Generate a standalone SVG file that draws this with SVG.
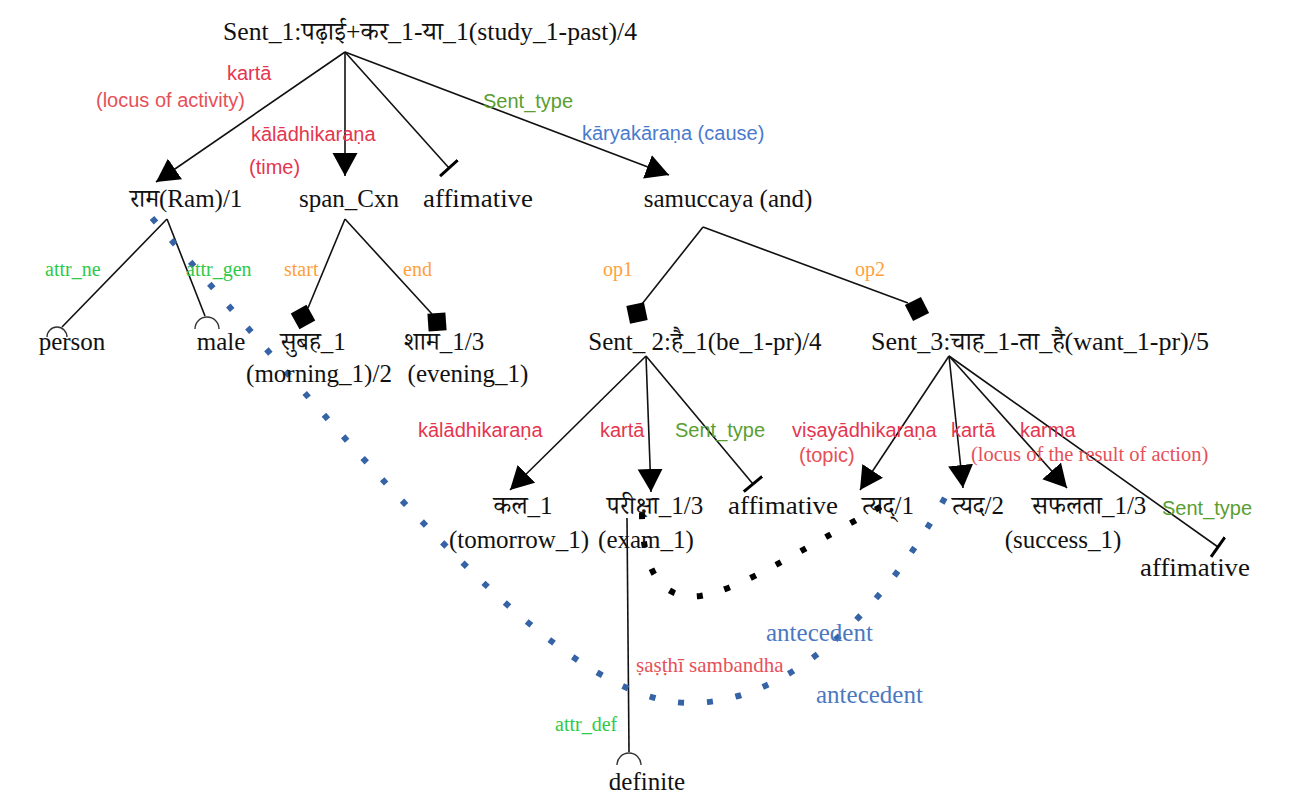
<svg xmlns="http://www.w3.org/2000/svg" width="1297" height="811" viewBox="0 0 1297 811">
  <defs>
    <style>
      .node text { font-family: "Liberation Serif", "Noto Serif Devanagari", "Noto Sans Devanagari", "Lohit Devanagari", "FreeSerif", serif; font-size: 25px; fill: #111; text-anchor: middle; }
      .edge { stroke: #111; stroke-width: 1.6; fill: none; }
      .arrow { marker-end: url(#arrowHead); }
      .tee { marker-end: url(#teeHead); }
      .cup { stroke: #333; stroke-width: 1.4; fill: none; }
      .box { fill: #000; }
      .ref-blue { stroke: #3563a6; stroke-width: 6; fill: none; stroke-dasharray: 6 23; }
      .ref-black { stroke: #000; stroke-width: 6; fill: none; stroke-dasharray: 6 22.5; }
      .sans { font-family: "Liberation Sans", "DejaVu Sans", sans-serif; font-size: 20px; }
      .serif { font-family: "Liberation Serif", "DejaVu Serif", serif; font-size: 20px; }
      .red { fill: #e4364f; }
      .red2 { fill: #e65058; }
      .green { fill: #5a9e32; }
      .lime { fill: #2fc94a; }
      .blue { fill: #4a7acc; }
      .blue2 { fill: #4b78c0; }
      .orange { fill: #ffa03c; }
    </style>
    <marker id="arrowHead" markerUnits="userSpaceOnUse" markerWidth="25" markerHeight="26" refX="23" refY="12.5" orient="auto">
      <path d="M0,0 L23,12.5 L0,25 z" fill="#000"/>
    </marker>
    <marker id="teeHead" markerUnits="userSpaceOnUse" markerWidth="6" markerHeight="26" refX="2" refY="12" orient="auto">
      <path d="M2,0 V24" stroke="#000" stroke-width="3"/>
    </marker>
  </defs>

  <rect width="1297" height="811" fill="#fff"/>

  <!-- dependency edges -->
  <g id="connectors">
    <!-- from Sent_1 -->
    <path class="edge arrow" d="M345,52 L156,182"/>
    <path class="edge arrow" d="M345,52 L345,176"/>
    <path class="edge tee" d="M345,52 L449,168"/>
    <path class="edge arrow" d="M345,52 L669,175"/>
    <!-- from Ram -->
    <path class="edge" d="M167,219 L62,327"/>
    <path class="cup" d="M47,337 A10,10 0 0 1 67,337"/>
    <path class="edge" d="M167,219 L205,316"/>
    <path class="cup" d="M195,329 A12,12 0 0 1 219,329"/>
    <!-- from span_Cxn -->
    <path class="edge" d="M345,219 L308,308"/>
    <rect class="box" x="-9" y="-9" width="18" height="18" transform="translate(303,317) rotate(-29)"/>
    <path class="edge" d="M345,219 L432,314"/>
    <rect class="box" x="-9" y="-9" width="18" height="18" transform="translate(437,322) rotate(-4)"/>
    <!-- from samuccaya -->
    <path class="edge" d="M703,227 L642,304"/>
    <rect class="box" x="-9" y="-9" width="18" height="18" transform="translate(637,313) rotate(-12)"/>
    <path class="edge" d="M703,227 L908,303"/>
    <rect class="box" x="-9" y="-9" width="18" height="18" transform="translate(917,309) rotate(-27)"/>
    <!-- from Sent_2 -->
    <path class="edge arrow" d="M646,356 L510,490"/>
    <path class="edge arrow" d="M646,356 L651,492"/>
    <path class="edge tee" d="M646,356 L753,484"/>
    <!-- from Sent_3 -->
    <path class="edge arrow" d="M949,356 L860,490"/>
    <path class="edge arrow" d="M949,356 L963,488"/>
    <path class="edge arrow" d="M949,356 L1067,488"/>
    <path class="edge tee" d="M949,356 L1218,547"/>
    <!-- pariksha to definite -->
    <path class="edge" d="M627,518 L629,752"/>
    <path class="cup" d="M617,765 A12,12 0 0 1 641,765"/>
    <!-- coreference chains -->
    <path class="ref-blue" d="M152,218 C380,478 560,703 690,703 C790,703 885,610 948,492"/>
    <path class="ref-black" d="M642,513 C642,580 668,600 700,596 C740,590 800,550 882,506"/>
  </g>

  <!-- relation labels -->
  <g id="edge-labels">
    <text class="sans red" x="227" y="80">kartā</text>
    <text class="sans red2" x="96" y="107">(locus of activity)</text>
    <text class="sans red" x="251" y="141">kālādhikaraṇa</text>
    <text class="sans red" x="249" y="174">(time)</text>
    <text class="sans green" x="483" y="108">Sent_type</text>
    <text class="sans blue" x="582" y="140">kāryakāraṇa (cause)</text>

    <text class="serif lime" x="45" y="276">attr_ne</text>
    <text class="serif lime" x="186" y="276">attr_gen</text>
    <text class="serif orange" x="284" y="276">start</text>
    <text class="serif orange" x="403" y="276">end</text>
    <text class="serif orange" x="603" y="276">op1</text>
    <text class="serif orange" x="855" y="276">op2</text>

    <text class="sans red" x="418" y="437">kālādhikaraṇa</text>
    <text class="sans red" x="600" y="437">kartā</text>
    <text class="sans green" x="675" y="437">Sent_type</text>
    <text class="sans red" x="792" y="437">viṣayādhikaraṇa</text>
    <text class="sans red2" x="799" y="462">(topic)</text>
    <text class="sans red" x="951" y="437">kartā</text>
    <text class="sans red" x="1020" y="437">karma</text>
    <text class="serif red2" x="971" y="461" style="font-size:20.5px">(locus of the result of action)</text>
    <text class="sans green" x="1162" y="515">Sent_type</text>

    <text class="serif blue2" x="766" y="641" style="font-size:25px">antecedent</text>
    <text class="serif blue2" x="816" y="703" style="font-size:25px">antecedent</text>
    <text class="serif red2" x="636" y="672" style="font-size:21px">ṣaṣṭhī sambandha</text>
    <text class="serif lime" x="555" y="731">attr_def</text>
  </g>

  <!-- nodes -->
  <g id="n-sent1" class="node"><text x="430" y="40" textLength="414" lengthAdjust="spacingAndGlyphs">Sent_1:पढ़ाई+कर_1-या_1(study_1-past)/4</text></g>
  <g id="n-ram" class="node"><text x="186" y="207">राम(Ram)/1</text></g>
  <g id="n-span" class="node"><text x="349" y="207">span_Cxn</text></g>
  <g id="n-affirm1" class="node"><text x="478" y="207" textLength="110" lengthAdjust="spacingAndGlyphs">affimative</text></g>
  <g id="n-samuccaya" class="node"><text x="728" y="207">samuccaya (and)</text></g>
  <g id="n-person" class="node"><text x="72" y="350">person</text></g>
  <g id="n-male" class="node"><text x="221" y="350">male</text></g>
  <g id="n-subah" class="node"><text x="313" y="350">सुबह_1</text><text x="319" y="382">(morning_1)/2</text></g>
  <g id="n-sham" class="node"><text x="444" y="350">शाम_1/3</text><text x="468" y="382">(evening_1)</text></g>
  <g id="n-sent2" class="node"><text x="705" y="350">Sent_ 2:है_1(be_1-pr)/4</text></g>
  <g id="n-sent3" class="node"><text x="1040" y="350" textLength="338" lengthAdjust="spacingAndGlyphs">Sent_3:चाह_1-ता_है(want_1-pr)/5</text></g>
  <g id="n-kal" class="node"><text x="523" y="514">कल_1</text><text x="519" y="548">(tomorrow_1)</text></g>
  <g id="n-pariksha" class="node"><text x="655" y="514">परीक्षा_1/3</text><text x="646" y="548">(exam_1)</text></g>
  <g id="n-affirm2" class="node"><text x="783" y="514" textLength="110" lengthAdjust="spacingAndGlyphs">affimative</text></g>
  <g id="n-tyad1" class="node"><text x="888" y="514">त्यद्/1</text></g>
  <g id="n-tyad2" class="node"><text x="978" y="514">त्यद/2</text></g>
  <g id="n-saphalata" class="node"><text x="1089" y="514">सफलता_1/3</text><text x="1063" y="548">(success_1)</text></g>
  <g id="n-affirm3" class="node"><text x="1195" y="576" textLength="110" lengthAdjust="spacingAndGlyphs">affimative</text></g>
  <g id="n-definite" class="node"><text x="647" y="790">definite</text></g>
</svg>
